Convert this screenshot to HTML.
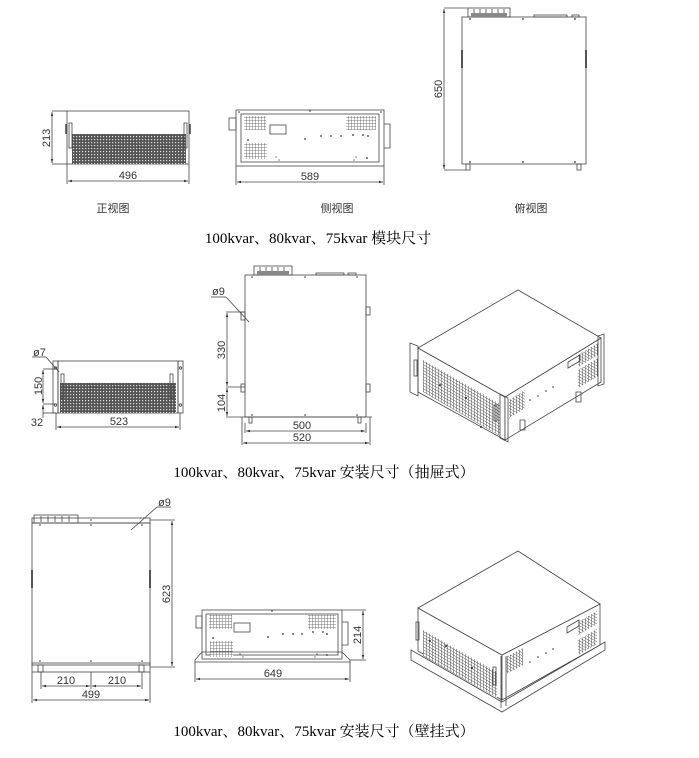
<!DOCTYPE html>
<html><head><meta charset="utf-8"><style>
html,body{margin:0;padding:0;background:#fff;}
svg{display:block;}
.s{fill:none;stroke:#444;stroke-width:0.8;}
.t{font-family:"Liberation Sans","Noto Sans CJK SC",sans-serif;font-size:11px;fill:#333;}
.c{font-family:"Liberation Serif","Noto Serif CJK SC","Noto Sans CJK SC",serif;font-size:15px;fill:#000;}
.l{font-family:"Liberation Sans","Noto Sans CJK SC",sans-serif;font-size:11px;fill:#333;}
</style></head><body>
<svg width="699" height="758" viewBox="0 0 699 758" xmlns="http://www.w3.org/2000/svg">
<defs>
<pattern id="m" width="3" height="3" patternUnits="userSpaceOnUse"><rect width="3" height="3" fill="#555"/><rect x="1" y="1" width="1.2" height="1.2" fill="#ddd"/></pattern>
<pattern id="g" width="3" height="3" patternUnits="userSpaceOnUse"><rect width="3" height="3" fill="#fff"/><path d="M0 0H3M0 0V3" stroke="#555" stroke-width="0.8"/></pattern>
<pattern id="gi" width="3" height="3" patternUnits="userSpaceOnUse" patternTransform="skewY(30)"><rect width="3" height="3" fill="#fff"/><path d="M0 0H3M0 0V3" stroke="#444" stroke-width="0.9"/></pattern>
<marker id="a" markerWidth="6" markerHeight="6" refX="5" refY="3" orient="auto-start-reverse"><path d="M0,1.5L5,3L0,4.5z" fill="#333"/></marker>
</defs>

<!-- ===== Section 1 ===== -->
<rect class="s" x="67" y="111" width="122" height="53"/>
<rect x="72" y="134" width="114" height="30" fill="url(#m)"/>
<rect class="s" x="69" y="123" width="3" height="25"/><rect class="s" x="184" y="123" width="3" height="25"/>
<line class="s" x1="66" y1="124" x2="66" y2="134" style="stroke-width:1.5"/><line class="s" x1="190" y1="124" x2="190" y2="134" style="stroke-width:1.5"/>
<line class="s" x1="52" y1="111" x2="67" y2="111"/><line class="s" x1="52" y1="164" x2="67" y2="164"/>
<line class="s" x1="52" y1="112" x2="52" y2="163" marker-start="url(#a)" marker-end="url(#a)"/>
<text class="t" transform="translate(50,138) rotate(-90)" text-anchor="middle">213</text>
<line class="s" x1="67" y1="164" x2="67" y2="184"/><line class="s" x1="189" y1="164" x2="189" y2="184"/>
<line class="s" x1="68" y1="181" x2="188" y2="181" marker-start="url(#a)" marker-end="url(#a)"/>
<text class="t" x="128" y="179" text-anchor="middle">496</text>

<rect class="s" x="236" y="110" width="148" height="56"/>
<rect class="s" x="241" y="114" width="138" height="48"/>
<rect class="s" x="229" y="118" width="7" height="12"/>
<path class="s" d="M384 124h6v24h-6"/>
<rect x="244" y="116" width="22" height="14" fill="url(#g)"/>
<rect class="s" x="270" y="125" width="16" height="9"/>
<rect x="346" y="116" width="30" height="14" fill="url(#g)"/>
<rect x="244" y="143" width="23" height="16" fill="url(#g)"/>
<g fill="#333"><circle cx="305" cy="139" r="0.9"/><circle cx="321" cy="136" r="0.9"/><circle cx="331" cy="136" r="0.9"/><circle cx="341" cy="136" r="0.9"/><circle cx="353" cy="135" r="0.9"/><circle cx="363" cy="135" r="0.9"/><circle cx="368" cy="136" r="0.9"/><circle cx="248" cy="140" r="0.9"/><circle cx="367" cy="158" r="0.9"/><circle cx="276" cy="157" r="0.6"/><circle cx="279" cy="160" r="0.6"/><circle cx="356" cy="157" r="0.6"/><circle cx="354" cy="160" r="0.6"/><circle cx="239" cy="112" r="0.8"/><circle cx="310" cy="111" r="0.8"/><circle cx="381" cy="112" r="0.8"/></g>
<line class="s" x1="236" y1="166" x2="236" y2="185"/><line class="s" x1="384" y1="166" x2="384" y2="185"/>
<line class="s" x1="237" y1="182" x2="383" y2="182" marker-start="url(#a)" marker-end="url(#a)"/>
<text class="t" x="310" y="180" text-anchor="middle">589</text>

<rect class="s" x="462" y="17" width="124" height="147"/>
<rect class="s" x="468" y="8" width="42" height="9"/>
<g stroke="#444" stroke-width="0.8"><line x1="474" y1="9" x2="474" y2="16"/><line x1="480" y1="9" x2="480" y2="16"/><line x1="486" y1="9" x2="486" y2="16"/><line x1="492" y1="9" x2="492" y2="16"/><line x1="498" y1="9" x2="498" y2="16"/><line x1="504" y1="9" x2="504" y2="16"/></g>
<rect x="471" y="13" width="36" height="4" fill="#888"/>
<rect class="s" x="534" y="15" width="33" height="2"/><rect class="s" x="572" y="15" width="7" height="2"/>
<rect x="461" y="50" width="2" height="18" fill="#555"/><rect x="585" y="50" width="2" height="18" fill="#555"/>
<g fill="#333"><circle cx="470" cy="19" r="0.9"/><circle cx="523" cy="19" r="0.9"/><circle cx="575" cy="19" r="0.9"/><circle cx="470" cy="162" r="0.9"/><circle cx="523" cy="162" r="0.9"/><circle cx="575" cy="162" r="0.9"/></g>
<rect class="s" x="466" y="164" width="4" height="6"/><rect class="s" x="577" y="164" width="4" height="6"/>
<line class="s" x1="444" y1="8" x2="468" y2="8"/><line class="s" x1="444" y1="170" x2="466" y2="170"/>
<line class="s" x1="444" y1="9" x2="444" y2="169" marker-start="url(#a)" marker-end="url(#a)"/>
<text class="t" transform="translate(442,89) rotate(-90)" text-anchor="middle">650</text>

<text class="l" x="113" y="212" text-anchor="middle">正视图</text>
<text class="l" x="337" y="212" text-anchor="middle">侧视图</text>
<text class="l" x="531" y="212" text-anchor="middle">俯视图</text>
<text class="c" x="318" y="243" text-anchor="middle">100kvar、80kvar、75kvar 模块尺寸</text>

<!-- ===== Section 2 ===== -->
<rect class="s" x="53" y="361" width="5" height="52"/><rect class="s" x="178" y="361" width="5" height="52"/>
<rect class="s" x="58" y="361" width="120" height="52"/>
<rect x="60" y="383" width="116" height="30" fill="url(#m)"/>
<rect class="s" x="61" y="374" width="3" height="24"/><rect class="s" x="170" y="374" width="3" height="24"/>
<circle class="s" cx="55.5" cy="368" r="1.2"/><circle class="s" cx="180.5" cy="368" r="1.2"/><circle class="s" cx="55.5" cy="405" r="1.2"/><circle class="s" cx="180.5" cy="405" r="1.2"/>
<line class="s" x1="43" y1="369" x2="55" y2="369"/><line class="s" x1="43" y1="404" x2="55" y2="404"/><line class="s" x1="43" y1="413" x2="55" y2="413"/>
<line class="s" x1="43" y1="370" x2="43" y2="403" marker-start="url(#a)" marker-end="url(#a)"/>
<line class="s" x1="43" y1="405" x2="43" y2="418" marker-start="url(#a)"/>
<text class="t" transform="translate(42,386) rotate(-90)" text-anchor="middle">150</text>
<text class="t" x="37" y="426" text-anchor="middle">32</text>
<text class="t" x="33" y="356">ø7</text>
<line class="s" x1="32" y1="357" x2="46" y2="357"/><line class="s" x1="46" y1="357" x2="59" y2="372"/>
<line class="s" x1="56" y1="413" x2="56" y2="430"/><line class="s" x1="180" y1="413" x2="180" y2="430"/>
<line class="s" x1="57" y1="427" x2="179" y2="427" marker-start="url(#a)" marker-end="url(#a)"/>
<text class="t" x="119" y="425" text-anchor="middle">523</text>

<rect class="s" x="245" y="275" width="121" height="142"/>
<rect class="s" x="254" y="266" width="38" height="9"/>
<g stroke="#444" stroke-width="0.8"><line x1="260" y1="267" x2="260" y2="274"/><line x1="266" y1="267" x2="266" y2="274"/><line x1="272" y1="267" x2="272" y2="274"/><line x1="278" y1="267" x2="278" y2="274"/><line x1="284" y1="267" x2="284" y2="274"/></g>
<rect x="257" y="271" width="32" height="4" fill="#888"/>
<rect class="s" x="316" y="273" width="28" height="2"/><rect class="s" x="348" y="273" width="8" height="2"/>
<rect class="s" x="241" y="312" width="4" height="8"/><rect class="s" x="241" y="384" width="4" height="8"/>
<rect class="s" x="366" y="307" width="4" height="8"/><rect class="s" x="366" y="384" width="4" height="8"/>
<g fill="#333"><circle cx="252" cy="277" r="0.8"/><circle cx="305" cy="277" r="0.8"/><circle cx="357" cy="277" r="0.8"/><circle cx="252" cy="415" r="0.8"/><circle cx="305" cy="415" r="0.8"/><circle cx="357" cy="415" r="0.8"/></g>
<rect class="s" x="249" y="417" width="3" height="6"/><rect class="s" x="358" y="417" width="3" height="6"/>
<text class="t" x="212" y="295">ø9</text>
<line class="s" x1="211" y1="297" x2="226" y2="297"/><line class="s" x1="226" y1="297" x2="249" y2="322"/>
<line class="s" x1="226" y1="312" x2="245" y2="312"/><line class="s" x1="226" y1="387" x2="245" y2="387"/><line class="s" x1="226" y1="417" x2="372" y2="417"/>
<line class="s" x1="227" y1="313" x2="227" y2="386" marker-start="url(#a)" marker-end="url(#a)"/>
<line class="s" x1="227" y1="388" x2="227" y2="416" marker-start="url(#a)" marker-end="url(#a)"/>
<text class="t" transform="translate(225,350) rotate(-90)" text-anchor="middle">330</text>
<text class="t" transform="translate(225,403) rotate(-90)" text-anchor="middle">104</text>
<line class="s" x1="242" y1="417" x2="242" y2="445"/><line class="s" x1="370" y1="417" x2="370" y2="445"/>
<line class="s" x1="245" y1="423" x2="245" y2="433"/><line class="s" x1="366" y1="423" x2="366" y2="433"/>
<line class="s" x1="246" y1="431" x2="365" y2="431" marker-start="url(#a)" marker-end="url(#a)"/>
<line class="s" x1="243" y1="443" x2="369" y2="443" marker-start="url(#a)" marker-end="url(#a)"/>
<text class="t" x="302" y="429" text-anchor="middle">500</text>
<text class="t" x="302" y="441" text-anchor="middle">520</text>

<g>
<polygon points="418,348 505,397 505,440 418,392" fill="#fff" stroke="#444" stroke-width="0.8"/>
<polygon points="423,360 500,404 500,436 423,392" fill="url(#gi)"/>
<polygon points="505,397 601,338 601,382 505,440" fill="#fff" stroke="#444" stroke-width="0.8"/>
<polygon points="418,348 518,290 601,338 505,397" fill="#fff" stroke="#444" stroke-width="0.8"/>
<polygon points="509,400 525,390 525,408 509,418" fill="url(#gi)"/>
<polygon points="578,355 598,343 598,355 578,367" fill="url(#gi)"/>
<polygon points="578,370 598,358 598,376 578,388" fill="url(#gi)"/>
<polygon class="s" points="568,362 580,355 580,361 568,368"/>
<polygon class="s" points="410,343 418,346 418,396 410,392"/>
<polygon class="s" points="500,394 508,398 508,442 500,438"/>
<polygon class="s" points="598,336 604,334 604,384 598,386"/>
<rect class="s" x="414" y="360" width="3" height="16"/><rect class="s" x="494" y="405" width="3" height="16"/>
<path class="s" d="M520 420v10h5v-10zM576 392v10h5v-10z"/>
<g fill="#333"><circle cx="530" cy="400" r="0.8"/><circle cx="538" cy="396" r="0.8"/><circle cx="546" cy="391" r="0.8"/><circle cx="553" cy="387" r="0.8"/><circle cx="440" cy="385" r="1"/><circle cx="466" cy="398" r="1"/><circle cx="481" cy="427" r="1"/></g>
</g>
<text class="c" x="324" y="477" text-anchor="middle">100kvar、80kvar、75kvar 安装尺寸（抽屉式）</text>

<!-- ===== Section 3 ===== -->
<rect class="s" x="32" y="523" width="118" height="142"/>
<rect class="s" x="32" y="518" width="118" height="5"/>
<rect class="s" x="34" y="515" width="44" height="8"/>
<g stroke="#444" stroke-width="0.8"><line x1="41" y1="516" x2="41" y2="522"/><line x1="48" y1="516" x2="48" y2="522"/><line x1="55" y1="516" x2="55" y2="522"/><line x1="62" y1="516" x2="62" y2="522"/><line x1="69" y1="516" x2="69" y2="522"/></g>
<rect x="31" y="570" width="2" height="18" fill="#555"/><rect x="149" y="570" width="2" height="18" fill="#555"/>
<rect class="s" x="32" y="663" width="118" height="9"/>
<rect class="s" x="38" y="665" width="5" height="7"/><rect class="s" x="139" y="665" width="5" height="7"/>
<g fill="#333"><circle cx="40" cy="525" r="0.8"/><circle cx="91" cy="525" r="0.8"/><circle cx="142" cy="525" r="0.8"/><circle cx="40" cy="661" r="0.8"/><circle cx="91" cy="661" r="0.8"/><circle cx="142" cy="661" r="0.8"/><circle cx="91" cy="520" r="0.8"/></g>
<text class="t" x="158" y="506">ø9</text>
<line class="s" x1="157" y1="507" x2="171" y2="507"/><line class="s" x1="157" y1="507" x2="131" y2="530"/>
<line class="s" x1="150" y1="520" x2="175" y2="520"/><line class="s" x1="150" y1="667" x2="175" y2="667"/>
<line class="s" x1="172" y1="521" x2="172" y2="666" marker-start="url(#a)" marker-end="url(#a)"/>
<text class="t" transform="translate(170,594) rotate(-90)" text-anchor="middle">623</text>
<line class="s" x1="41" y1="672" x2="41" y2="689"/><line class="s" x1="91" y1="672" x2="91" y2="689"/><line class="s" x1="142" y1="672" x2="142" y2="689"/>
<line class="s" x1="42" y1="686" x2="90" y2="686" marker-start="url(#a)" marker-end="url(#a)"/>
<line class="s" x1="92" y1="686" x2="141" y2="686" marker-start="url(#a)" marker-end="url(#a)"/>
<text class="t" x="66" y="684" text-anchor="middle">210</text>
<text class="t" x="117" y="684" text-anchor="middle">210</text>
<line class="s" x1="32" y1="672" x2="32" y2="703"/><line class="s" x1="150" y1="672" x2="150" y2="703"/>
<line class="s" x1="33" y1="700" x2="149" y2="700" marker-start="url(#a)" marker-end="url(#a)"/>
<text class="t" x="91" y="698" text-anchor="middle">499</text>

<rect class="s" x="202" y="610" width="140" height="49"/>
<rect class="s" x="206" y="614" width="132" height="41"/>
<rect class="s" x="196" y="616" width="6" height="12"/>
<path class="s" d="M342 622h6v23h-6"/>
<rect x="209" y="615" width="23" height="14" fill="url(#g)"/>
<rect class="s" x="234" y="623" width="16" height="9"/>
<rect x="308" y="615" width="28" height="14" fill="url(#g)"/>
<rect x="210" y="641" width="23" height="16" fill="url(#g)"/>
<polygon class="s" points="202,652 195,660 195,662 350,662 350,660 342,652"/>
<g fill="#333"><circle cx="268" cy="637" r="0.9"/><circle cx="283" cy="634" r="0.9"/><circle cx="293" cy="634" r="0.9"/><circle cx="302" cy="634" r="0.9"/><circle cx="313" cy="632" r="0.9"/><circle cx="323" cy="632" r="0.9"/><circle cx="327" cy="634" r="0.9"/><circle cx="213" cy="638" r="0.9"/><circle cx="327" cy="655" r="0.9"/><circle cx="240" cy="654" r="0.6"/><circle cx="243" cy="657" r="0.6"/><circle cx="317" cy="654" r="0.6"/><circle cx="315" cy="657" r="0.6"/><circle cx="272" cy="611" r="0.8"/></g>
<line class="s" x1="342" y1="610" x2="366" y2="610"/><line class="s" x1="350" y1="660" x2="366" y2="660"/>
<line class="s" x1="363" y1="611" x2="363" y2="659" marker-start="url(#a)" marker-end="url(#a)"/>
<text class="t" transform="translate(361,635) rotate(-90)" text-anchor="middle">214</text>
<line class="s" x1="195" y1="662" x2="195" y2="682"/><line class="s" x1="350" y1="662" x2="350" y2="682"/>
<line class="s" x1="196" y1="679" x2="349" y2="679" marker-start="url(#a)" marker-end="url(#a)"/>
<text class="t" x="273" y="677" text-anchor="middle">649</text>

<g>
<polygon class="s" points="411,650 502,702 605,642 605,650 502,712 411,660" fill="#fff"/>
<polygon points="418,608 502,655 502,700 418,651" fill="#fff" stroke="#444" stroke-width="0.8"/>
<polygon points="423,630 497,672 497,698 423,656" fill="url(#gi)"/>
<polygon points="502,655 600,604 600,645 502,700" fill="#fff" stroke="#444" stroke-width="0.8"/>
<polygon points="418,608 518,551 600,604 502,655" fill="#fff" stroke="#444" stroke-width="0.8"/>
<polygon points="506,657 523,648 523,665 506,674" fill="url(#gi)"/>
<polygon points="578,622 597,611 597,624 578,635" fill="url(#gi)"/>
<polygon points="578,640 597,629 597,644 578,655" fill="url(#gi)"/>
<polygon class="s" points="567,627 579,620 579,626 567,633"/>
<rect class="s" x="416" y="622" width="3" height="18"/><rect class="s" x="493" y="667" width="3" height="18"/>
<line class="s" x1="501" y1="656" x2="501" y2="708"/><line class="s" x1="506" y1="656" x2="506" y2="706"/>
<g fill="#333"><circle cx="530" cy="662" r="0.8"/><circle cx="538" cy="657" r="0.8"/><circle cx="546" cy="653" r="0.8"/><circle cx="553" cy="649" r="0.8"/><circle cx="430" cy="641" r="1"/><circle cx="472" cy="668" r="1"/><circle cx="446" cy="646" r="1"/></g>
</g>
<text class="c" x="324" y="736" text-anchor="middle">100kvar、80kvar、75kvar 安装尺寸（壁挂式）</text>
</svg>
</body></html>
